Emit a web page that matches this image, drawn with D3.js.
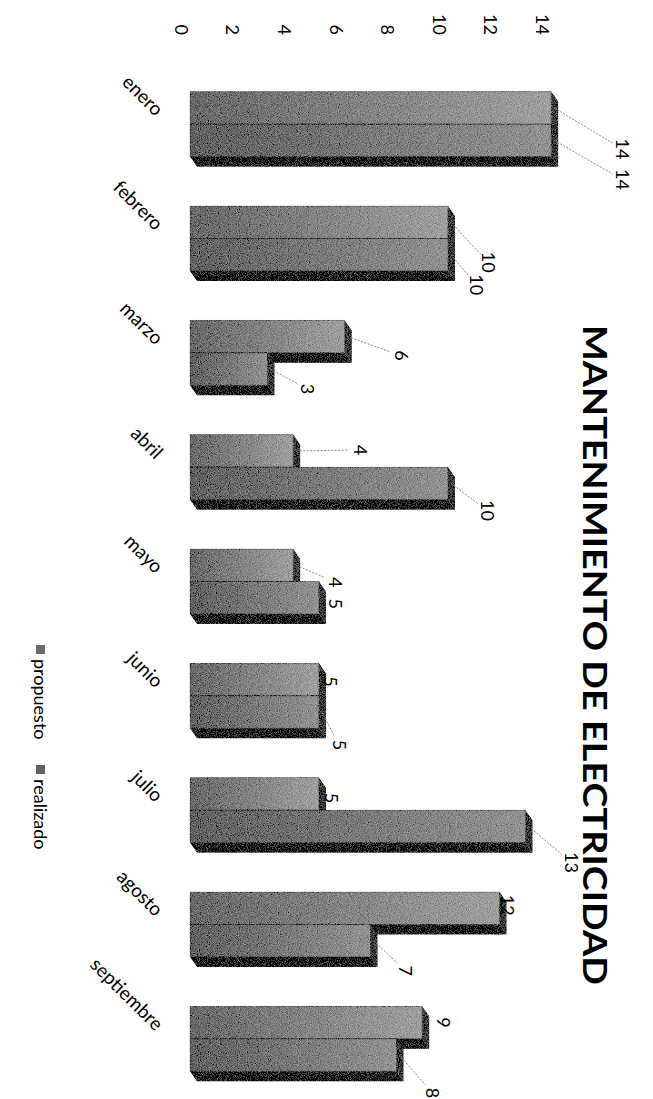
<!DOCTYPE html>
<html>
<head>
<meta charset="utf-8">
<style>
  html, body { margin: 0; padding: 0; background: #fff; }
  svg { display: block; }
  text { font-family: Lato, "Liberation Sans", sans-serif; fill: #000; }
</style>
</head>
<body>
<div id="chart"></div>
<script src="https://d3js.org/d3.v7.min.js"></script>
<script>
  // values
  const categories = ["enero", "febrero", "marzo", "abril", "mayo", "junio", "julio", "agosto", "septiembre"]
  const seriesNames = ["propuesto", "realizado"]
  const propuesto = [14, 10, 6, 4, 4, 5, 5, 12, 9]
  const realizado = [14, 10, 3, 10, 5, 5, 13, 7, 8]
  const valueTicks = [0, 2, 4, 6, 8, 10, 12, 14]

  // where each data label was dragged to: [along category, along value] in px
  const propLabelShift = [[41, 71], [40, 40], [19, 56], [-1, 67], [17, 42], [2, 11], [4, 12], [-3, 8], [0, 21]]
  const realLabelShift = [[39, 71], [30, 28], [20, 40], [27, 39], [6, 16], [33, 20], [36, 46], [30, 35], [38, 36]]

  const pageW = 653
  const pageH = 1099
  // the chart was scanned sideways, so it is drawn landscape and turned 90deg
  const frameW = pageH
  const frameH = pageW
  const depth = { dx: 10, dy: -7 }

  const svg = d3.select("#chart").append("svg")
    .attr("width", pageW)
    .attr("height", pageH)

  const defs = svg.append("defs")

  const grain = defs.append("filter")
    .attr("id", "grain")
    .attr("filterUnits", "userSpaceOnUse")
    .attr("x", 0).attr("y", 0).attr("width", frameW).attr("height", frameH)
  grain.append("feTurbulence")
    .attr("type", "fractalNoise").attr("baseFrequency", 1.1)
    .attr("numOctaves", 1).attr("seed", 4).attr("result", "noise")
  grain.append("feColorMatrix")
    .attr("in", "noise").attr("type", "matrix")
    .attr("values", "0.33 0.33 0.33 0 0  0.33 0.33 0.33 0 0  0.33 0.33 0.33 0 0  0 0 0 0 1")
    .attr("result", "grey")
  grain.append("feComposite")
    .attr("in", "SourceGraphic").attr("in2", "grey")
    .attr("operator", "arithmetic")
    .attr("k1", 0).attr("k2", 1).attr("k3", 0.9).attr("k4", -0.45)
    .attr("result", "mixed")
  grain.append("feComposite")
    .attr("in", "mixed").attr("in2", "SourceGraphic").attr("operator", "in")

  const gradStops = {
    propuesto: ["#6a6a6a", "#a0a0a0"],
    realizado: ["#626262", "#939393"]
  }
  seriesNames.forEach(s => {
    const g = defs.append("linearGradient")
      .attr("id", "front-" + s)
      .attr("x1", 0).attr("y1", 1).attr("x2", 0).attr("y2", 0)
    g.append("stop").attr("offset", "0%").attr("stop-color", gradStops[s][0])
    g.append("stop").attr("offset", "100%").attr("stop-color", gradStops[s][1])
  })

  const frame = svg.append("g")
    .attr("transform", "translate(" + pageW + ",0) rotate(90)")

  const x0 = d3.scaleBand()
    .domain(categories)
    .range([67, 1096])

  const groupW = 65
  const x1 = d3.scaleBand()
    .domain(seriesNames)
    .range([0, groupW])

  const y = d3.scaleLinear()
    .domain([0, 14])
    .range([463, 101.8])

  // title
  frame.append("text")
    .attr("x", 655)
    .attr("y", 70)
    .attr("text-anchor", "middle")
    .attr("textLength", 660)
    .attr("lengthAdjust", "spacingAndGlyphs")
    .style("font-size", "33px")
    .style("font-weight", "bold")
    .text("MANTENIMIENTO DE ELECTRICIDAD")

  // value axis (labels only)
  const yAxis = d3.axisLeft(y)
    .tickValues(valueTicks)
    .tickSize(0)
    .tickPadding(0)
  const axisG = frame.append("g")
    .attr("transform", "translate(35,9)")
    .call(yAxis)
  axisG.select(".domain").remove()
  axisG.selectAll("text")
    .style("font-family", "Lato, sans-serif")
    .style("font-size", "18px")
    .attr("fill", "#000")

  // category labels
  frame.append("g")
    .selectAll("text")
    .data(categories)
    .enter()
    .append("text")
    .attr("transform", d => "translate(" + (x0(d) + x0.bandwidth() / 2 - 7) + ",498) rotate(-45)")
    .attr("text-anchor", "end")
    .style("font-size", "19px")
    .text(d => d)

  // flatten to one record per box
  const boxes = []
  categories.forEach((c, i) => {
    seriesNames.forEach(s => {
      const v = s === "propuesto" ? propuesto[i] : realizado[i]
      const shift = s === "propuesto" ? propLabelShift[i] : realLabelShift[i]
      boxes.push({ cat: c, series: s, value: v, shift: shift })
    })
  })

  const boxX = d => x0(d.cat) + (x0.bandwidth() - groupW) / 2 + x1(d.series)
  const bw = x1.bandwidth()

  const bars = frame.append("g").attr("filter", "url(#grain)")

  const box = bars.selectAll("g.box")
    .data(boxes)
    .enter()
    .append("g")
    .attr("class", "box")

  // front face
  box.append("rect")
    .attr("x", d => boxX(d))
    .attr("y", d => y(d.value))
    .attr("width", bw)
    .attr("height", d => y(0) - y(d.value))
    .attr("fill", d => "url(#front-" + d.series + ")")
    .attr("stroke", "rgba(0,0,0,0.45)")
    .attr("stroke-width", 0.8)

  // top face
  box.append("polygon")
    .attr("points", d => {
      const x = boxX(d), t = y(d.value)
      return [[x, t], [x + bw, t], [x + bw + depth.dx, t + depth.dy], [x + depth.dx, t + depth.dy]].join(" ")
    })
    .attr("fill", "#3c3c3c")

  // side face
  box.append("polygon")
    .attr("points", d => {
      const x = boxX(d) + bw, t = y(d.value), b = y(0)
      return [[x, t], [x + depth.dx, t + depth.dy], [x + depth.dx, b + depth.dy], [x, b]].join(" ")
    })
    .attr("fill", "#161616")

  // data labels with their leader lines
  const labelPos = d => ({
    x: boxX(d) + bw / 2 + d.shift[0],
    y: y(d.value) - d.shift[1]
  })

  const leaders = frame.append("g")
  boxes.forEach(d => {
    const p = labelPos(d)
    const sx = boxX(d) + bw / 2, sy = y(d.value) - 3
    const dist = Math.hypot(p.x - sx, p.y - sy)
    if (dist < 24) return
    const k = (dist - 11) / dist
    leaders.append("line")
      .attr("x1", sx).attr("y1", sy)
      .attr("x2", sx + (p.x - sx) * k).attr("y2", sy + (p.y - sy) * k)
      .attr("stroke", "#8a8a8a")
      .attr("stroke-width", 1)
      .attr("stroke-dasharray", "2,1.5")
  })

  frame.append("g")
    .selectAll("text")
    .data(boxes)
    .enter()
    .append("text")
    .attr("x", d => labelPos(d).x)
    .attr("y", d => labelPos(d).y)
    .attr("text-anchor", "middle")
    .attr("dy", "0.35em")
    .style("font-size", "18px")
    .text(d => d.value)

  // legend
  const legendX = d3.scaleOrdinal()
    .domain(seriesNames)
    .range([645, 765])
  const legendItems = frame.append("g")
    .selectAll("g")
    .data(seriesNames)
    .enter()
    .append("g")
    .attr("transform", d => "translate(" + legendX(d) + ",613)")
  legendItems.append("rect")
    .attr("x", 0).attr("y", -5)
    .attr("width", 9).attr("height", 9)
    .attr("fill", d => gradStops[d][0])
  legendItems.append("text")
    .attr("x", 14)
    .attr("y", 0)
    .attr("dy", "0.35em")
    .style("font-size", "18px")
    .text(d => d)
</script>
</body>
</html>
